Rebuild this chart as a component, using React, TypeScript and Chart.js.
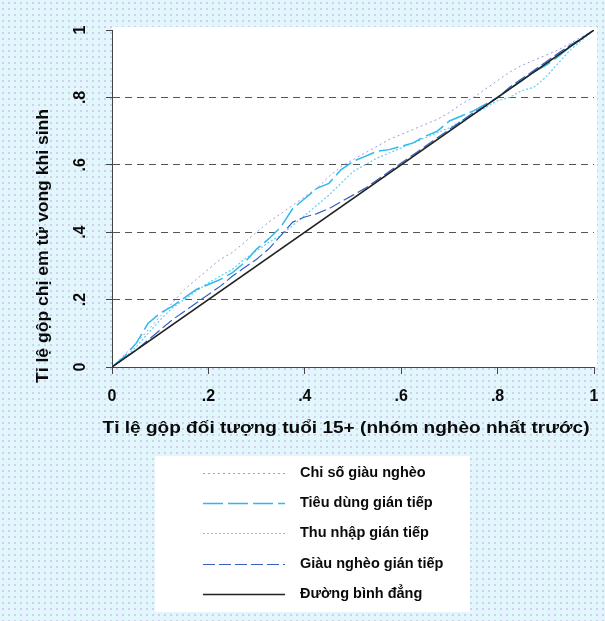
import React, { useEffect, useRef } from "react";
import { Chart, registerables } from "chart.js";

Chart.register(...registerables);

// Cumulative share of population aged 15+ (poorest first)
const xValues = [
  0, 0.025, 0.05, 0.075, 0.1, 0.125, 0.15, 0.175, 0.2, 0.225, 0.25, 0.275, 0.3, 0.325, 0.35, 0.375, 0.4,
  0.425, 0.45, 0.475, 0.5, 0.525, 0.55, 0.575, 0.6, 0.625, 0.65, 0.675, 0.7, 0.725, 0.75, 0.775, 0.8,
  0.825, 0.85, 0.875, 0.9, 0.925, 0.95, 0.975, 1,
];

const chiSoGiauNgheo = [
  0, 0.035, 0.07, 0.11, 0.15, 0.19, 0.23, 0.26, 0.29, 0.32, 0.34, 0.37, 0.4, 0.43, 0.455, 0.48, 0.505,
  0.53, 0.565, 0.595, 0.615, 0.635, 0.655, 0.675, 0.69, 0.705, 0.72, 0.735, 0.755, 0.78, 0.8, 0.825, 0.85,
  0.875, 0.895, 0.91, 0.925, 0.94, 0.96, 0.98, 1,
];

const tieuDungGianTiep = [
  0, 0.03, 0.07, 0.13, 0.16, 0.18, 0.205, 0.23, 0.245, 0.26, 0.28, 0.31, 0.35, 0.38, 0.415, 0.47, 0.5,
  0.53, 0.545, 0.585, 0.61, 0.625, 0.64, 0.645, 0.655, 0.665, 0.685, 0.7, 0.73, 0.745, 0.76, 0.78, 0.8,
  0.825, 0.85, 0.875, 0.895, 0.92, 0.95, 0.975, 1,
];

const thuNhapGianTiep = [
  0, 0.025, 0.06, 0.1, 0.14, 0.175, 0.2, 0.225, 0.25, 0.27, 0.29, 0.32, 0.345, 0.37, 0.39, 0.42, 0.45,
  0.48, 0.51, 0.545, 0.58, 0.6, 0.62, 0.635, 0.65, 0.665, 0.68, 0.695, 0.71, 0.73, 0.75, 0.77, 0.79,
  0.8, 0.82, 0.83, 0.86, 0.9, 0.94, 0.97, 1,
];

const giauNgheoGianTiep = [
  0, 0.025, 0.05, 0.08, 0.11, 0.14, 0.165, 0.19, 0.215, 0.24, 0.27, 0.295, 0.32, 0.35, 0.39, 0.43, 0.445,
  0.455, 0.47, 0.49, 0.51, 0.53, 0.555, 0.58, 0.605, 0.63, 0.655, 0.68, 0.705, 0.73, 0.755, 0.775, 0.8,
  0.83, 0.855, 0.88, 0.905, 0.93, 0.955, 0.975, 1,
];

const equalityX = [0, 1];
const equalityY = [0, 1];

const tickValues = [0, 0.2, 0.4, 0.6, 0.8, 1];
const tickLabels = ["0", ".2", ".4", ".6", ".8", "1"];

const seriesLabels = [
  "Chỉ số giàu nghèo",
  "Tiêu dùng gián tiếp",
  "Thu nhập gián tiếp",
  "Giàu nghèo gián tiếp",
  "Đường bình đẳng",
];

const xTitle = "Tỉ lệ gộp đối tượng tuổi 15+ (nhóm nghèo nhất trước)";
const yTitle = "Tỉ lệ gộp chị em tử vong khi sinh";

const FONT = '"Liberation Sans", Arial, sans-serif';

const toPoints = (xs: number[], ys: number[]) => xs.map((x, i) => ({ x, y: ys[i] }));

function fitText(ctx: CanvasRenderingContext2D, text: string, cx: number, cy: number, width: number, rot: number) {
  const w = ctx.measureText(text).width;
  ctx.save();
  ctx.translate(cx, cy);
  ctx.rotate(rot);
  ctx.scale(width / w, 1);
  ctx.fillText(text, 0, 0);
  ctx.restore();
}

const decorPlugin = {
  id: "decor",
  beforeDraw(chart: any) {
    const { ctx, width, height, chartArea } = chart;
    ctx.save();
    const pc = document.createElement("canvas");
    pc.width = 6;
    pc.height = 6;
    const p = pc.getContext("2d")!;
    p.fillStyle = "#e2f7fb";
    p.fillRect(0, 0, 6, 6);
    p.fillStyle = "#d2cdf1";
    p.fillRect(2, 2, 2, 2);
    ctx.fillStyle = ctx.createPattern(pc, "repeat");
    ctx.fillRect(0, 0, width, height);
    ctx.fillStyle = "#ffffff";
    ctx.fillRect(chartArea.left, chartArea.top - 3, chartArea.right - chartArea.left + 3, chartArea.bottom - chartArea.top + 3);
    // legend box
    ctx.fillRect(155, 456, 315, 156);
    ctx.restore();
  },
  afterDraw(chart: any) {
    const { ctx } = chart;
    const xs = chart.scales.x;
    const ys = chart.scales.y;
    ctx.save();
    ctx.fillStyle = "#0a0a0a";
    ctx.textBaseline = "middle";
    ctx.textAlign = "center";
    ctx.font = `bold 16px ${FONT}`;
    tickValues.forEach((v, i) => {
      ctx.fillText(tickLabels[i], xs.getPixelForValue(v), 397);
    });
    tickValues.forEach((v, i) => {
      ctx.save();
      ctx.translate(81, ys.getPixelForValue(v));
      ctx.rotate(-Math.PI / 2);
      ctx.fillText(tickLabels[i], 0, 0);
      ctx.restore();
    });
    ctx.font = `bold 17px ${FONT}`;
    fitText(ctx, xTitle, 346, 428, 487, 0);
    ctx.font = `bold 17px ${FONT}`;
    fitText(ctx, yTitle, 43, 246, 274, -Math.PI / 2);

    // legend
    const rows = [473, 503, 533, 564, 594];
    ctx.font = `bold 14.5px ${FONT}`;
    ctx.textAlign = "left";
    chart.data.datasets.forEach((ds: any, i: number) => {
      const y = rows[i];
      ctx.save();
      ctx.strokeStyle = ds.borderColor;
      ctx.lineWidth = ds.borderWidth;
      ctx.setLineDash(ds.borderDash || []);
      ctx.beginPath();
      ctx.moveTo(203, y + 0.5);
      ctx.lineTo(285, y + 0.5);
      ctx.stroke();
      ctx.restore();
      ctx.fillStyle = "#0a0a0a";
      ctx.fillText(ds.label, 300, y);
    });
    ctx.restore();
  },
};

export default function App() {
  const canvasRef = useRef<HTMLCanvasElement | null>(null);

  useEffect(() => {
    document.body.style.margin = "0";
    const canvas = canvasRef.current;
    if (!canvas) return;
    const chart = new Chart(canvas, {
      type: "line",
      data: {
        datasets: [
          {
            label: seriesLabels[0],
            data: toPoints(xValues, chiSoGiauNgheo),
            borderColor: "#9c9cd6",
            borderWidth: 1,
            borderDash: [2, 3],
            order: 4,
          },
          {
            label: seriesLabels[1],
            data: toPoints(xValues, tieuDungGianTiep),
            borderColor: "#2fb8ee",
            borderWidth: 1.5,
            borderDash: [20, 5],
            order: 2,
          },
          {
            label: seriesLabels[2],
            data: toPoints(xValues, thuNhapGianTiep),
            borderColor: "#5fd0f7",
            borderWidth: 1.2,
            borderDash: [2, 2],
            order: 3,
          },
          {
            label: seriesLabels[3],
            data: toPoints(xValues, giauNgheoGianTiep),
            borderColor: "#3560c0",
            borderWidth: 1.2,
            borderDash: [12, 4],
            order: 1,
          },
          {
            label: seriesLabels[4],
            data: toPoints(equalityX, equalityY),
            borderColor: "#222222",
            borderWidth: 1.6,
            borderDash: [],
            order: 0,
          },
        ],
      },
      options: {
        responsive: false,
        maintainAspectRatio: false,
        animation: false,
        layout: { padding: { top: 30, right: 11, left: 0, bottom: 0 } },
        plugins: { legend: { display: false }, tooltip: { enabled: false } },
        elements: { point: { radius: 0 }, line: { tension: 0, fill: false } },
        scales: {
          x: {
            type: "linear",
            min: 0,
            max: 1,
            ticks: { display: false, stepSize: 0.2 },
            grid: { drawOnChartArea: false, tickLength: 7, tickColor: "#444", color: "#444" },
            border: { color: "#444", width: 1 },
            afterFit: (s: any) => {
              s.height = 254;
            },
          },
          y: {
            type: "linear",
            min: 0,
            max: 1,
            ticks: { display: false, stepSize: 0.2 },
            grid: {
              tickLength: 6,
              tickColor: "#444",
              tickBorderDash: [],
              color: (c: any) =>
                c.tick && (Math.abs(c.tick.value) < 1e-6 || Math.abs(c.tick.value - 1) < 1e-6)
                  ? "rgba(0,0,0,0)"
                  : "#555",
            },
            border: { color: "#444", width: 1, dash: [7, 5] },
            afterFit: (s: any) => {
              s.width = 112;
            },
          },
        },
      },
      plugins: [decorPlugin],
    });
    return () => chart.destroy();
  }, []);

  return (
    <div style={{ width: 605, height: 621 }}>
      <canvas ref={canvasRef} width={605} height={621} style={{ display: "block" }} />
    </div>
  );
}
